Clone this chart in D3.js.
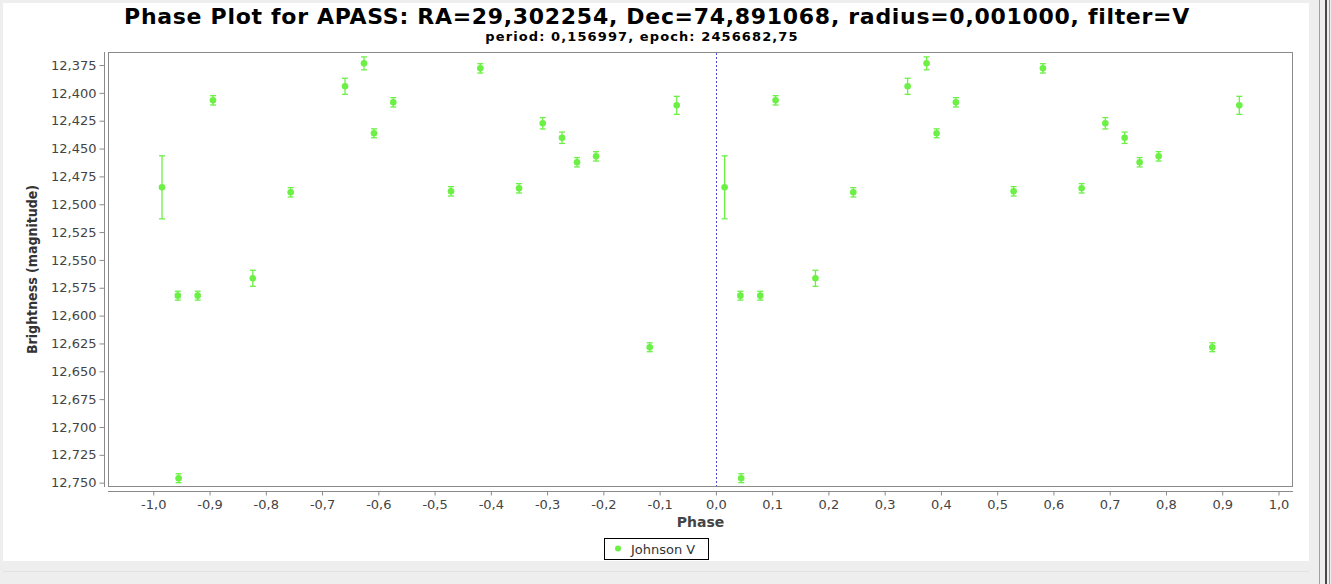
<!DOCTYPE html>
<html><head><meta charset="utf-8">
<script src="https://cdn.jsdelivr.net/npm/d3@7"></script>
<style>
html,body{margin:0;padding:0;background:#eeeeee;}
svg{display:block;}
</style></head>
<body>
<svg id="c" width="1331" height="584"></svg>
<script>
// ---- data (phase in [0,1), mean magnitude, error) ----
const phases = [0.0155, 0.0436, 0.0450, 0.0789, 0.1061, 0.1769, 0.2442, 0.3408, 0.3745, 0.3923,
                0.4266, 0.5292, 0.5813, 0.6501, 0.6922, 0.7265, 0.7532, 0.7870, 0.8824, 0.9304];
const magnitudes = [12.4848, 12.5821, 12.7460, 12.5821, 12.4067, 12.5665, 12.4893, 12.3941, 12.3735, 12.4363,
                    12.4085, 12.4884, 12.3780, 12.4857, 12.4273, 12.4403, 12.4623, 12.4570, 12.6284, 12.4112];
const errors = [0.0283, 0.0040, 0.0040, 0.0040, 0.0042, 0.0072, 0.0042, 0.0072, 0.0058, 0.0040,
                0.0042, 0.0042, 0.0042, 0.0042, 0.0051, 0.0051, 0.0042, 0.0042, 0.0040, 0.0081];
const xTicks = [-1.0,-0.9,-0.8,-0.7,-0.6,-0.5,-0.4,-0.3,-0.2,-0.1,0.0,0.1,0.2,0.3,0.4,0.5,0.6,0.7,0.8,0.9,1.0];
const yTicks = [12.375,12.400,12.425,12.450,12.475,12.500,12.525,12.550,12.575,12.600,12.625,12.650,12.675,12.700,12.725,12.750];
const seriesName = "Johnson V";
const titleText = "Phase Plot for APASS: RA=29,302254, Dec=74,891068, radius=0,001000, filter=V";
const subtitleText = "period: 0,156997, epoch: 2456682,75";

// build points: each observation plotted at phase-1 and phase
const points = [];
phases.forEach((p,i)=>{
  points.push({x:p-1, m:magnitudes[i], e:errors[i]});
  points.push({x:p,   m:magnitudes[i], e:errors[i]});
});

const svg = d3.select("#c");
const green = "#6cf046";
const axisColor = "#8a8a8a";
const textColor = "#444444";
const fmt = (v,d)=> v.toFixed(d).replace(".", ",");

// window chrome
svg.append("rect").attr("x",0).attr("y",0).attr("width",1331).attr("height",584).attr("fill","#eeeeee");
svg.append("rect").attr("x",3).attr("y",3).attr("width",1306).attr("height",558).attr("fill","#ffffff");
svg.append("line").attr("x1",3).attr("x2",1309).attr("y1",571.5).attr("y2",571.5).attr("stroke","#e2e2e2");
svg.append("line").attr("x1",1319.5).attr("x2",1319.5).attr("y1",0).attr("y2",584).attr("stroke","#a0a0a0");
svg.append("line").attr("x1",1326).attr("x2",1326).attr("y1",0).attr("y2",584).attr("stroke","#111").attr("stroke-width",1.5);
svg.append("line").attr("x1",1329.5).attr("x2",1329.5).attr("y1",0).attr("y2",584).attr("stroke","#a0a0a0");

const L=108, R=1293, T=52, B=487;
const x = d3.scaleLinear().domain([-1.0805, 1.0258]).range([L, R]);
const y = d3.scaleLinear().domain([12.3633, 12.7539]).range([T, B]);

// titles
svg.append("text").attr("x",657).attr("y",24).attr("text-anchor","middle")
  .attr("font-family","'DejaVu Sans', Verdana, sans-serif").attr("font-weight","bold")
  .attr("font-size",22).attr("letter-spacing",0.7).attr("fill","#000").text(titleText);
svg.append("text").attr("x",642).attr("y",41).attr("text-anchor","middle")
  .attr("font-family","'DejaVu Sans', Verdana, sans-serif").attr("font-weight","bold")
  .attr("font-size",13).attr("letter-spacing",1.1).attr("fill","#000").text(subtitleText);

// plot border
svg.append("rect").attr("x",L+0.5).attr("y",T+0.5).attr("width",R-L-1).attr("height",B-T-1)
  .attr("fill","none").attr("stroke",axisColor);

// zero line
svg.append("line").attr("x1",Math.round(x(0))+0.5).attr("x2",Math.round(x(0))+0.5).attr("y1",T+1).attr("y2",B-1)
  .attr("stroke","#4a4adc").attr("stroke-width",1).attr("stroke-dasharray","2,2");

// Y axis
const yAxis = d3.axisLeft(y).tickValues(yTicks).tickFormat(d=>fmt(d,3)).tickSize(5).tickSizeOuter(0).tickPadding(3);
const gy = svg.append("g").attr("transform",`translate(104.5,0)`).call(yAxis);
gy.select(".domain").attr("stroke",axisColor).attr("d",`M0,${T}V${B}`);
gy.selectAll(".tick line").attr("stroke",axisColor);
gy.selectAll("text").attr("fill",textColor).attr("font-family","'DejaVu Sans', Verdana, sans-serif").attr("font-size",13);

// X axis
const xAxis = d3.axisBottom(x).tickValues(xTicks).tickFormat(d=>fmt(d,1)).tickSize(4).tickSizeOuter(0).tickPadding(4);
const gx = svg.append("g").attr("transform",`translate(0,491.5)`).call(xAxis);
gx.select(".domain").attr("stroke",axisColor).attr("d",`M${L},0H${R}`);
gx.selectAll(".tick line").attr("stroke",axisColor);
gx.selectAll("text").attr("fill",textColor).attr("font-family","'DejaVu Sans', Verdana, sans-serif").attr("font-size",13);

// axis labels
svg.append("text").attr("x",(L+R)/2).attr("y",527).attr("text-anchor","middle")
  .attr("font-family","'DejaVu Sans', Verdana, sans-serif").attr("font-weight","bold")
  .attr("font-size",14).attr("fill",textColor).text("Phase");
svg.append("text").attr("transform",`translate(37,${(T+B)/2}) rotate(-90)`).attr("text-anchor","middle")
  .attr("font-family","'DejaVu Sans Condensed', 'Liberation Sans Narrow', sans-serif").attr("font-stretch","condensed")
  .attr("font-weight","bold").attr("font-size",14).attr("fill","#333").text("Brightness (magnitude)");

// error bars & points
const g = svg.append("g");
const eb = g.selectAll("g.eb").data(points).join("g").attr("class","eb");
eb.append("line").attr("x1",d=>x(d.x)).attr("x2",d=>x(d.x)).attr("y1",d=>y(d.m-d.e)).attr("y2",d=>y(d.m+d.e))
  .attr("stroke",green).attr("stroke-width",1.3);
eb.append("line").attr("x1",d=>x(d.x)-3).attr("x2",d=>x(d.x)+3).attr("y1",d=>y(d.m-d.e)).attr("y2",d=>y(d.m-d.e))
  .attr("stroke",green).attr("stroke-width",1.3);
eb.append("line").attr("x1",d=>x(d.x)-3).attr("x2",d=>x(d.x)+3).attr("y1",d=>y(d.m+d.e)).attr("y2",d=>y(d.m+d.e))
  .attr("stroke",green).attr("stroke-width",1.3);
eb.append("circle").attr("cx",d=>x(d.x)).attr("cy",d=>y(d.m)).attr("r",3.3).attr("fill",green);

// legend
const lg = svg.append("g");
lg.append("rect").attr("x",604.5).attr("y",538.5).attr("width",104).attr("height",21)
  .attr("fill","#fff").attr("stroke","#000");
lg.append("circle").attr("cx",618).attr("cy",548.5).attr("r",3).attr("fill",green);
lg.append("text").attr("x",631).attr("y",553.5).attr("font-family","'DejaVu Sans', Verdana, sans-serif")
  .attr("font-size",13).attr("fill","#333").text(seriesName);
</script>
</body></html>
